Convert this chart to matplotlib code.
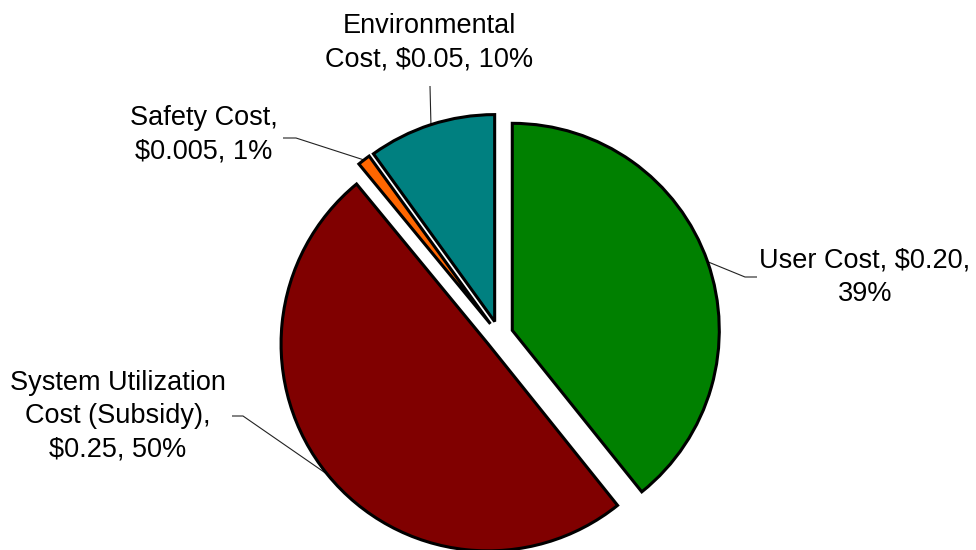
import numpy as np
import matplotlib
matplotlib.use("Agg")
import matplotlib.pyplot as plt

# Cost components per trip (dollars)
categories = ["User Cost", "System Utilization Cost (Subsidy)", "Safety Cost", "Environmental Cost"]
costs = [0.197, 0.25, 0.005, 0.05]
cost_decimals = [2, 2, 3, 2]
colors = ["#008000", "#800000", "#FF6600", "#008080"]

W, H, DPI = 976, 550, 100
CX, CY, R = 499, 335, 207  # pie centre and radius in pixels


def px(x, y):
    """Pixel position (from top-left) to data coordinates."""
    return (x - CX) / R, (CY - y) / R


plt.rcParams["font.family"] = ["Liberation Sans", "DejaVu Sans"]

fig = plt.figure(figsize=(W / DPI, H / DPI), dpi=DPI)
ax = fig.add_axes([0, 0, 1, 1])
wedges, _ = ax.pie(
    costs,
    startangle=90,
    counterclock=False,
    explode=[0.068] * len(costs),
    colors=colors,
    radius=1.0,
    wedgeprops=dict(edgecolor="black", linewidth=2.2, joinstyle="miter"),
)
x0, y0 = px(0, H)
x1, y1 = px(W, 0)
ax.set_xlim(x0, x1)
ax.set_ylim(y0, y1)
ax.set_aspect("auto")
ax.axis("off")

total = sum(costs)
values = [f"${v:.{d}f}" for v, d in zip(costs, cost_decimals)]
pcts = [f"{round(100 * v / total)}%" for v in costs]

# label text with its line breaks
texts = [
    f"User Cost, {values[0]},\n{pcts[0]}",
    f"System Utilization\nCost (Subsidy),\n{values[1]}, {pcts[1]}",
    f"Safety Cost,\n{values[2]}, {pcts[2]}",
    f"Environmental\nCost, {values[3]}, {pcts[3]}",
]

# label layout: text centre, leader elbow and leader end (pixels)
label_pos = [(865, 277), (118, 416), (204, 135), (429, 43)]
leader_pts = [
    [(745, 277), (757, 277)],
    [(243, 416), (232, 416)],
    [(296, 138), (283, 138)],
    [(430, 86)],
]

for w, txt, pos, pts in zip(wedges, texts, label_pos, leader_pts):
    mid = np.deg2rad((w.theta1 + w.theta2) / 2)
    cx, cy = w.center
    arc_pt = (cx + w.r * np.cos(mid), cy + w.r * np.sin(mid))
    path = [arc_pt] + [px(*p) for p in pts]
    xs, ys = zip(*path)
    ax.plot(xs, ys, color="#222222", lw=0.8, solid_capstyle="butt", zorder=0)
    tx, ty = px(*pos)
    ax.text(tx, ty, txt, ha="center", va="center", multialignment="center",
            fontsize=19.5, color="black", linespacing=1.36)

fig.savefig("out.png", dpi=DPI)
